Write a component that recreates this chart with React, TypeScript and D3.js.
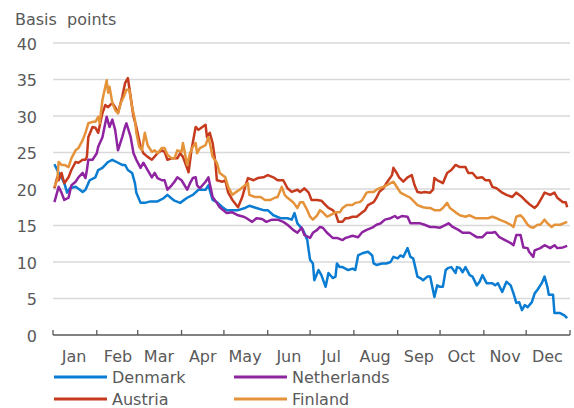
import React, { useEffect, useRef } from 'react';
import * as d3 from 'd3';

// day-of-year 2020 (0 = 1 Jan) and spread in basis points
const denmarkDays = [1, 4, 6, 8, 10, 12, 16, 19, 21, 23, 25, 26, 30, 32, 35, 39, 42, 45, 49, 51, 53, 56, 58, 59, 62, 65, 69, 74, 78, 81, 84, 86, 90, 95, 99, 103, 108, 110, 113, 116, 120, 123, 127, 131, 136, 139, 144, 149, 152, 156, 161, 166, 169, 171, 173, 177, 180, 181, 182, 184, 185, 188, 190, 193, 195, 198, 200, 201, 203, 205, 209, 212, 214, 216, 219, 223, 226, 227, 229, 233, 236, 239, 241, 244, 246, 248, 251, 253, 255, 258, 260, 262, 265, 267, 270, 272, 274, 276, 278, 280, 282, 285, 286, 288, 290, 292, 295, 297, 300, 302, 304, 307, 311, 313, 315, 318, 321, 324, 326, 328, 330, 332, 334, 336, 339, 341, 343, 346, 348, 350, 351, 354, 355, 359, 362, 364];
const denmarkValues = [23.4, 22.2, 21.6, 20.8, 19.5, 20.1, 20.3, 19.9, 19.6, 19.9, 20.8, 21.2, 21.6, 22.6, 22.9, 23.7, 24, 23.7, 23.3, 23.3, 22.6, 22.2, 20.8, 19.5, 18.1, 18.1, 18.3, 18.3, 18.7, 19.2, 18.7, 18.4, 18.1, 18.8, 19.2, 19.9, 19.9, 20.5, 18.5, 18.2, 17.5, 17.1, 17.1, 17.1, 17.4, 17.7, 17.4, 17.1, 17.1, 16.4, 16, 16, 15.8, 16.7, 15.3, 14.4, 13, 11.6, 10.3, 9.8, 7.5, 8.9, 8.2, 6.6, 8.5, 7.8, 8, 9.8, 9.3, 9.3, 8.9, 9.1, 8.9, 10.9, 11.2, 11.4, 10.9, 9.8, 9.6, 9.8, 9.8, 10, 10.7, 10.5, 10.9, 10.7, 11.9, 10.7, 10.5, 8, 7.8, 7.5, 8, 8, 5.2, 6.8, 6.6, 6.6, 8.9, 9.2, 9.3, 8.5, 9.3, 9.2, 8.6, 9.3, 8.2, 8, 6.8, 7.3, 8.2, 7.1, 7.1, 6.8, 7.1, 5.9, 7.3, 6.8, 5.7, 4.4, 4.5, 3.4, 4.1, 3.8, 4.5, 5.7, 6.2, 7.1, 8, 6.6, 5.5, 5.5, 3, 3, 2.7, 2.3];

const netherlandsDays = [1, 4, 6, 8, 11, 13, 16, 18, 21, 23, 24, 25, 28, 31, 32, 35, 37, 38, 40, 42, 44, 46, 49, 51, 52, 55, 57, 59, 62, 64, 67, 70, 72, 74, 77, 79, 81, 84, 86, 88, 91, 95, 97, 99, 101, 102, 104, 108, 110, 113, 116, 118, 123, 127, 131, 135, 137, 141, 144, 148, 151, 155, 159, 163, 166, 170, 173, 176, 178, 182, 184, 187, 189, 191, 194, 198, 201, 205, 207, 209, 212, 216, 219, 222, 226, 229, 232, 235, 239, 242, 244, 247, 251, 253, 256, 260, 263, 267, 270, 274, 278, 280, 283, 287, 290, 295, 300, 304, 307, 311, 313, 316, 320, 324, 326, 328, 331, 333, 336, 337, 340, 341, 345, 348, 352, 355, 357, 361, 364];
const netherlandsValues = [18.2, 20.3, 19.5, 18.5, 18.8, 20.5, 21, 21.6, 22.2, 21.5, 22.6, 24, 24, 24.9, 25.8, 27.1, 29, 29.9, 28.5, 29.5, 28.1, 25.3, 27.1, 28.5, 29, 27.1, 24.9, 24, 22.9, 23.6, 22.6, 21.6, 22.2, 21.5, 21.2, 21.2, 19.9, 20.5, 21, 21.6, 21.2, 19.9, 20.8, 21.5, 21.6, 20.5, 20.1, 21, 21.6, 18.9, 18.1, 17.5, 16.7, 16.8, 16.4, 16.2, 16, 15.5, 16, 15.9, 15.5, 15.8, 15.8, 15.5, 15.1, 14.4, 14, 14.7, 13.7, 13.3, 14, 14.4, 14.8, 14.7, 14, 13.3, 13.3, 13, 13.3, 13.4, 13.6, 13.4, 14.1, 14.4, 14.7, 15.1, 15.3, 15.8, 16, 16.3, 16, 16.3, 16.2, 15.3, 15.3, 15.3, 15.1, 14.8, 14.8, 14.7, 15.1, 15.3, 14.8, 14.4, 14, 14, 13.4, 13.4, 14, 14, 14.1, 13.4, 13, 12.6, 12.3, 13.7, 13.7, 12, 11.9, 11.4, 10.7, 11.6, 11.9, 12.3, 11.9, 12.3, 11.9, 12, 12.2];

const austriaDays = [1, 3, 4, 6, 8, 11, 13, 16, 18, 21, 23, 24, 25, 28, 30, 32, 35, 37, 39, 42, 44, 46, 49, 51, 53, 55, 57, 59, 62, 64, 67, 70, 74, 77, 79, 81, 84, 88, 90, 92, 96, 98, 101, 103, 105, 108, 109, 111, 113, 115, 116, 120, 122, 124, 127, 131, 134, 136, 138, 142, 145, 149, 152, 156, 159, 163, 166, 169, 173, 175, 178, 181, 183, 187, 190, 193, 195, 198, 200, 202, 205, 207, 209, 212, 215, 219, 221, 223, 227, 229, 231, 234, 236, 240, 241, 243, 245, 248, 251, 254, 256, 258, 261, 263, 267, 269, 270, 272, 274, 276, 279, 282, 285, 288, 292, 294, 297, 300, 304, 306, 309, 311, 314, 318, 321, 325, 328, 332, 334, 338, 341, 343, 346, 348, 352, 355, 357, 361, 363, 364];
const austriaValues = [20.1, 21.6, 21.2, 22.2, 20.8, 21.6, 22.6, 23.7, 23.6, 24, 24, 24.4, 27.1, 28.5, 28.4, 27.7, 30.4, 31.5, 31.2, 31.8, 31.2, 30.4, 32.6, 34.5, 35.2, 32.6, 29.9, 28.5, 25.8, 24.9, 24.4, 24, 24.9, 25.3, 25.1, 24, 24.2, 24.2, 24.9, 24.4, 22.3, 25.3, 28.5, 28.1, 28.4, 28.8, 27.1, 27.7, 26.3, 23.6, 21.2, 21, 21.2, 19.5, 18.5, 17.5, 18.9, 20.3, 21.5, 21.2, 21.5, 21.6, 21.9, 21.6, 21.2, 21.2, 20.1, 19.6, 19.9, 19.6, 20.1, 19.5, 18.5, 18.5, 18.4, 17.8, 17.4, 17.1, 16.7, 15.5, 15.5, 16, 16, 16.2, 16.2, 16.8, 17.1, 17.8, 18.2, 18.8, 19.6, 20.1, 20.8, 21.9, 22.9, 22.3, 21.6, 21, 21.6, 21.9, 20.5, 19.6, 19.5, 19.6, 19.5, 19.9, 21.5, 21.2, 21, 20.8, 22.2, 22.6, 23.3, 23, 23, 22.2, 22.2, 21.5, 21.6, 21.2, 21.2, 20.3, 20.1, 19.5, 19.2, 18.9, 19.5, 18.9, 18.5, 17.8, 17.4, 17.8, 18.8, 19.5, 19.2, 19.5, 18.8, 18.2, 18.2, 17.5];

const finlandDays = [1, 3, 4, 6, 8, 11, 13, 16, 18, 21, 23, 25, 28, 30, 32, 33, 35, 38, 39, 40, 42, 44, 46, 48, 50, 52, 54, 56, 58, 59, 61, 63, 65, 67, 70, 72, 74, 77, 79, 81, 84, 86, 88, 91, 92, 95, 97, 99, 101, 102, 104, 108, 110, 111, 113, 116, 118, 122, 124, 127, 129, 132, 136, 138, 139, 143, 147, 150, 154, 157, 159, 162, 164, 166, 170, 173, 175, 177, 180, 182, 184, 187, 189, 191, 194, 196, 200, 203, 205, 208, 212, 214, 217, 219, 222, 224, 227, 229, 231, 234, 236, 239, 241, 244, 246, 249, 253, 256, 258, 262, 265, 267, 270, 274, 276, 279, 281, 285, 288, 292, 295, 299, 304, 308, 311, 314, 316, 320, 324, 326, 328, 331, 333, 336, 338, 340, 343, 345, 348, 350, 353, 355, 359, 364];
const finlandValues = [20.3, 21.2, 23.7, 23.3, 23.3, 23, 24.2, 25.3, 25.6, 26.7, 27.7, 29, 29.2, 29.2, 29.9, 29, 32.2, 34.9, 33.2, 34, 31.8, 30.8, 30.4, 31.8, 32.6, 33.6, 33.6, 31.2, 29.5, 27.7, 25.8, 25.3, 27.7, 26, 25.1, 25.3, 24.9, 25.6, 25.6, 24.7, 24.2, 24.2, 25.3, 25.1, 26.3, 23.3, 24.9, 25.8, 26.3, 24.9, 25.6, 26, 27.1, 26.3, 24.4, 23.6, 22.2, 21.6, 20.3, 19.2, 19.5, 19.9, 20.5, 20.8, 19.2, 18.9, 18.9, 18.5, 18.5, 18.8, 18.9, 20.3, 19.2, 18.8, 18.2, 17.4, 18.2, 18.2, 17.1, 16.2, 15.8, 16.4, 17.1, 16.8, 16.2, 16.4, 16.8, 16.8, 17.4, 17.8, 17.8, 18.1, 18.2, 18.5, 19.5, 19.6, 19.6, 19.9, 20.1, 20.3, 20.5, 20.8, 21, 20.1, 19.5, 19.2, 18.8, 18.2, 17.8, 17.5, 17.4, 17.4, 17.1, 17.1, 17.4, 18.1, 17.4, 16.8, 16.4, 16.2, 16.4, 16, 16, 16, 16.2, 16, 15.8, 15.5, 15.1, 14.8, 16.2, 16.4, 16, 15.1, 14.8, 14.7, 15.1, 15.1, 15.8, 15.3, 14.8, 15.1, 15.1, 15.5];

const seriesNames = ['Denmark', 'Netherlands', 'Austria', 'Finland'];
const seriesColors = ['#0a7dd3', '#8f24a0', '#c63b1e', '#e5933a'];
const monthLabels = ['Jan', 'Feb', 'Mar', 'Apr', 'May', 'Jun', 'Jul', 'Aug', 'Sep', 'Oct', 'Nov', 'Dec'];
const yTicks = [0, 5, 10, 15, 20, 25, 30, 35, 40];

const W = 574;
const H = 408;
const FONT = '"DejaVu Sans", sans-serif';
const TEXT = '#595959';

const App = () => {
  const svgRef = useRef<SVGSVGElement>(null);

  useEffect(() => {
    document.body.style.margin = '0';
    const svg = d3.select(svgRef.current);
    svg.selectAll('*').remove();

    const start = new Date(2020, 0, 1);
    const end = new Date(2021, 0, 1);
    const x = d3.scaleTime().domain([start, end]).range([53, 570]);
    const y = d3.scaleLinear().domain([0, 40]).range([335, 43]);
    const day = (d: number) => d3.timeDay.offset(start, d);

    // gridlines
    svg.append('g')
      .selectAll('line')
      .data(yTicks.filter(t => t > 0))
      .join('line')
      .attr('x1', x(start)).attr('x2', x(end))
      .attr('y1', d => y(d)).attr('y2', d => y(d))
      .attr('stroke', '#d9d9d9').attr('stroke-width', 1.3);

    // y labels
    svg.append('g')
      .selectAll('text')
      .data(yTicks)
      .join('text')
      .attr('x', 37).attr('y', d => y(d) + 1)
      .attr('text-anchor', 'end').attr('dominant-baseline', 'central')
      .attr('font-family', FONT).attr('font-size', 16).attr('fill', TEXT)
      .text(d => d);

    svg.append('text')
      .attr('x', 15).attr('y', 25)
      .attr('font-family', FONT).attr('font-size', 16).attr('fill', TEXT)
      .style('white-space', 'pre')
      .text('Basis  points');

    // x axis
    const months = d3.timeMonth.range(start, end);
    svg.append('line')
      .attr('x1', x(start)).attr('x2', x(end))
      .attr('y1', y(0)).attr('y2', y(0))
      .attr('stroke', '#595959').attr('stroke-width', 1.5);
    svg.append('g')
      .selectAll('line')
      .data([...months, end])
      .join('line')
      .attr('x1', d => x(d)).attr('x2', d => x(d))
      .attr('y1', y(0)).attr('y2', y(0) - 5)
      .attr('stroke', '#595959').attr('stroke-width', 1.3);
    svg.append('g')
      .selectAll('text')
      .data(months)
      .join('text')
      .attr('x', d => x(new Date(d.getFullYear(), d.getMonth(), 16)))
      .attr('y', 362)
      .attr('text-anchor', 'middle')
      .attr('font-family', FONT).attr('font-size', 16).attr('fill', TEXT)
      .text((d, i) => monthLabels[i]);

    const allDays = [denmarkDays, netherlandsDays, austriaDays, finlandDays];
    const allValues = [denmarkValues, netherlandsValues, austriaValues, finlandValues];
    const line = d3.line<[Date, number]>().x(d => x(d[0])).y(d => y(d[1]));

    allDays.forEach((days, i) => {
      const pts: [Date, number][] = days.map((d, j) => [day(d), allValues[i][j]]);
      svg.append('path')
        .attr('d', line(pts))
        .attr('fill', 'none')
        .attr('stroke', seriesColors[i])
        .attr('stroke-width', 2.5)
        .attr('stroke-linejoin', 'round');
    });

    // legend
    const legend = svg.append('g');
    seriesNames.forEach((name, i) => {
      const lx = i % 2 === 0 ? 54 : 234;
      const ly = i < 2 ? 377 : 399;
      legend.append('line')
        .attr('x1', lx).attr('x2', lx + 53)
        .attr('y1', ly).attr('y2', ly)
        .attr('stroke', seriesColors[i]).attr('stroke-width', 3);
      legend.append('text')
        .attr('x', lx + 58).attr('y', ly)
        .attr('dominant-baseline', 'central')
        .attr('font-family', FONT).attr('font-size', 16).attr('fill', TEXT)
        .text(name);
    });
  }, []);

  return <svg ref={svgRef} width={W} height={H} style={{ display: 'block' }} />;
};

export default App;
